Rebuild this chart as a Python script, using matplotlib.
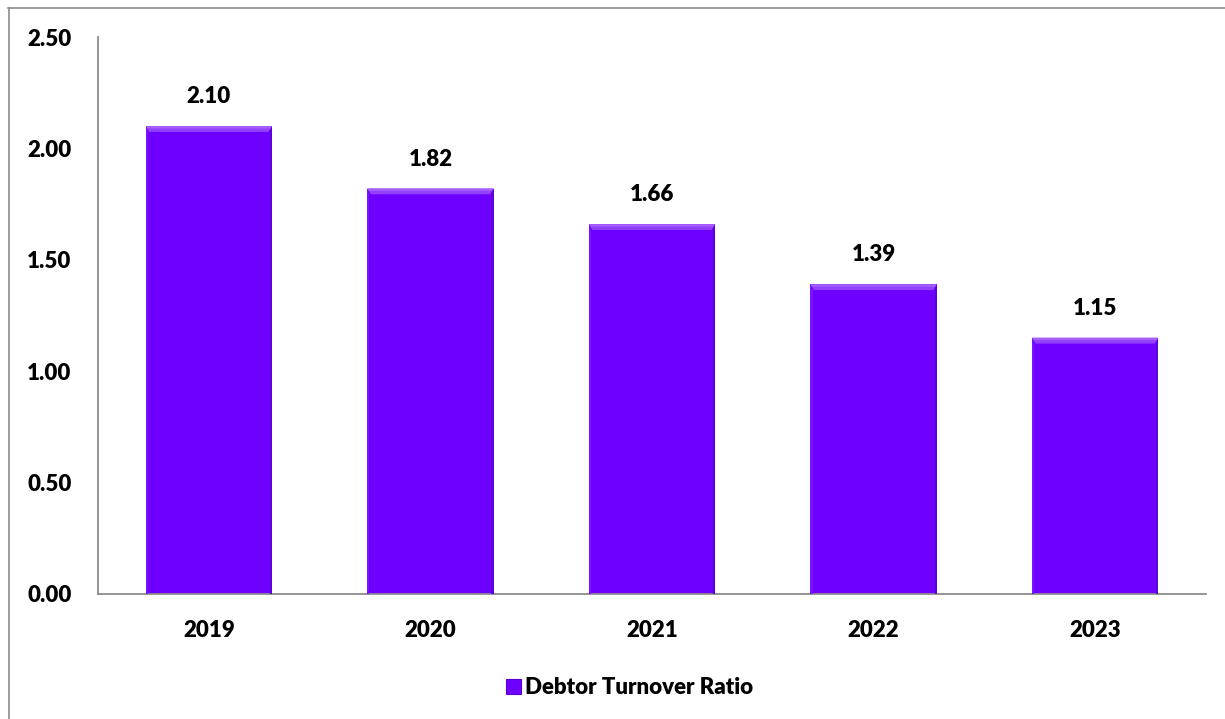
import matplotlib
matplotlib.use("Agg")
import matplotlib.pyplot as plt
from matplotlib.patches import Polygon, Patch
from matplotlib.lines import Line2D

years = ["2019", "2020", "2021", "2022", "2023"]
ratios = [2.10, 1.82, 1.66, 1.39, 1.15]
y_ticks = [0.0, 0.5, 1.0, 1.5, 2.0, 2.5]
series_name = "Debtor Turnover Ratio"

plt.rcParams["font.family"] = ["Lato", "DejaVu Sans"]
plt.rcParams["font.weight"] = "bold"

bar_color = "#6E00FF"
bevel_top = "#9242FF"
bevel_side = "#5E00DC"

FS = 16

fig = plt.figure(figsize=(12.25, 7.19), dpi=100)
ax = fig.add_axes([98 / 1225, 1 - 594 / 719, (1206 - 98) / 1225, (594 - 37) / 719])

width = 0.57
x = list(range(len(years)))
ax.bar(x, ratios, width=width, color=bar_color, edgecolor="none", zorder=2)

# bevel highlights on each bar (top strip lighter, sides slightly darker)
bh = 0.026
bw = 0.016
for xi, v in zip(x, ratios):
    l, r = xi - width / 2, xi + width / 2
    ax.add_patch(Polygon([(l, v), (r, v), (r - bw, v - bh), (l + bw, v - bh)],
                         closed=True, facecolor=bevel_top, edgecolor="none", zorder=3))
    ax.add_patch(Polygon([(l, v), (r, v), (r - bw * 0.5, v - bh * 0.4), (l + bw * 0.5, v - bh * 0.4)],
                         closed=True, facecolor="#A560FF", edgecolor="none", zorder=3))
    ax.add_patch(Polygon([(r, v), (r, 0), (r - bw * 0.6, 0), (r - bw * 0.6, v - bh)],
                         closed=True, facecolor=bevel_side, edgecolor="none", zorder=3))
    ax.add_patch(Polygon([(l, v), (l, 0), (l + bw * 0.6, 0), (l + bw * 0.6, v - bh)],
                         closed=True, facecolor="#7A14FF", edgecolor="none", zorder=3))
    ax.text(xi, v + 0.085, f"{v:.2f}", ha="center", va="bottom",
            fontsize=FS, fontweight="heavy", color="black")

ax.set_xlim(-0.5, len(years) - 0.5)
ax.set_ylim(0, 2.5)
ax.set_yticks(y_ticks)
ax.set_yticklabels([f"{t:.2f}" for t in y_ticks])
ax.set_xticks(x)
ax.set_xticklabels(years)
ax.tick_params(axis="both", length=0, labelsize=FS)
ax.tick_params(axis="y", pad=19)
ax.tick_params(axis="x", pad=19)
for lbl in ax.get_xticklabels() + ax.get_yticklabels():
    lbl.set_fontweight("heavy")

for side in ["top", "right"]:
    ax.spines[side].set_visible(False)
for side in ["left", "bottom"]:
    ax.spines[side].set_color("#8C8C8C")
    ax.spines[side].set_linewidth(1.3)

handle = Patch(facecolor=bar_color, edgecolor="#5A00D6", linewidth=0.8)
fig.legend([handle], [series_name], loc="center", bbox_to_anchor=(630 / 1225, 1 - 688 / 719),
           frameon=False, prop={"weight": "heavy", "size": FS},
           handlelength=0.65, handleheight=0.65, handletextpad=0.2)

# outer chart-area border (top and left edges visible)
fig.add_artist(Line2D([8 / 1225, 1.0], [1 - 7.5 / 719, 1 - 7.5 / 719],
                      transform=fig.transFigure, color="#8C8C8C", linewidth=1.2))
fig.add_artist(Line2D([8.5 / 1225, 8.5 / 1225], [0.0, 1 - 7.5 / 719],
                      transform=fig.transFigure, color="#8C8C8C", linewidth=1.2))

fig.savefig("out.png", dpi=100, facecolor="white")
